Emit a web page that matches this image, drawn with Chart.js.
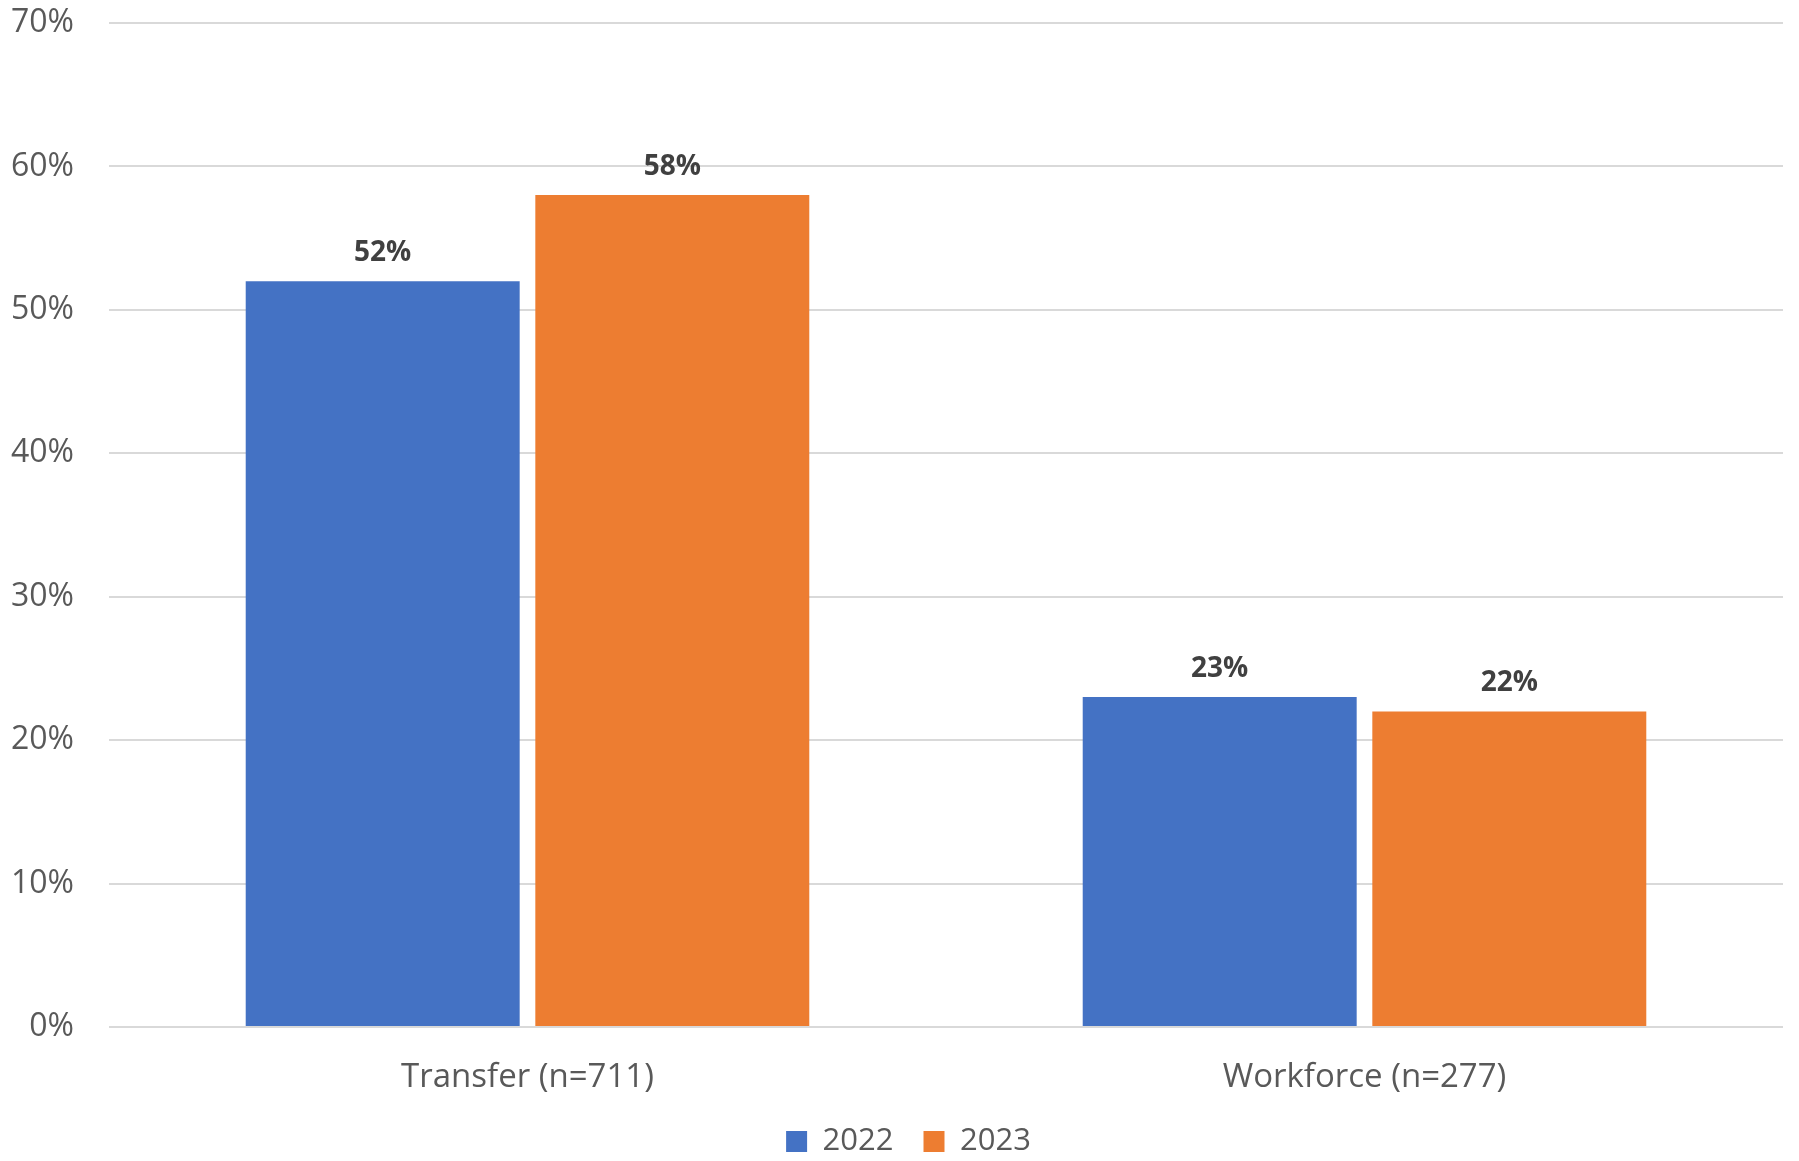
<!DOCTYPE html>
<html>
<head>
<meta charset="utf-8">
<script src="https://cdn.jsdelivr.net/npm/chart.js@4/dist/chart.umd.min.js"></script>
<style>
  html, body { margin: 0; padding: 0; background: #fff; }
  #wrap { width: 1799px; height: 1161px; }
</style>
</head>
<body>
<div id="wrap"><canvas id="barChart"></canvas></div>
<script>
// Data
const categories = ['Transfer (n=711)', 'Workforce (n=277)'];
const years = ['2022', '2023'];
const values2022 = [52, 23];
const values2023 = [58, 22];
const yTicks = [0, 10, 20, 30, 40, 50, 60, 70];

const FONT = "'Open Sans', 'Noto Sans', sans-serif";

// Simple value labels on top of each bar
const barLabels = {
    id: 'barLabels',
    afterLayout(chart) {
        // legend sits a little right of centre in the original
        chart.legend.left += 17;
        chart.legend.right += 17;
    },
    afterDatasetsDraw(chart) {
        const ctx = chart.ctx;
        ctx.save();
        ctx.font = "bold 28px " + FONT;
        ctx.fillStyle = '#404040';
        ctx.textAlign = 'center';
        ctx.textBaseline = 'bottom';
        chart.data.datasets.forEach((ds, i) => {
            chart.getDatasetMeta(i).data.forEach((bar, j) => {
                ctx.fillText(ds.data[j] + '%', bar.x, bar.y - 14);
            });
        });
        ctx.restore();
    }
};

new Chart(document.getElementById('barChart'), {
    type: 'bar',
    data: {
        labels: categories,
        datasets: [
            {
                label: years[0],
                data: values2022,
                backgroundColor: '#4472C4',
                categoryPercentage: 0.692,
                barPercentage: 0.946
            },
            {
                label: years[1],
                data: values2023,
                backgroundColor: '#ED7D31',
                categoryPercentage: 0.692,
                barPercentage: 0.946
            }
        ]
    },
    options: {
        responsive: true,
        maintainAspectRatio: false,
        animation: false,
        layout: {
            padding: { top: 23, right: 16, bottom: -6, left: 0 }
        },
        scales: {
            x: {
                afterFit(scale) { scale.height = 69; },
                grid: { display: false },
                border: { display: false },
                ticks: {
                    color: '#595959',
                    padding: 23,
                    font: { family: FONT, size: 33 }
                }
            },
            y: {
                min: 0,
                max: 70,
                afterFit(scale) {
                    scale.width = 109;
                    scale.paddingTop = 0;
                    scale.paddingBottom = 0;
                },
                afterBuildTicks(scale) {
                    scale.ticks = yTicks.map(v => ({ value: v }));
                },
                grid: { color: '#d9d9d9', lineWidth: 2, drawTicks: false },
                border: { display: false },
                ticks: {
                    color: '#595959',
                    padding: 35,
                    font: { family: FONT, size: 32 },
                    callback: v => v + '%'
                }
            }
        },
        plugins: {
            legend: {
                position: 'bottom',
                labels: {
                    color: '#595959',
                    boxWidth: 21,
                    boxHeight: 21,
                    padding: 30,
                    font: { family: FONT, size: 31, lineHeight: 1.0 }
                }
            },
            tooltip: { enabled: false }
        }
    },
    plugins: [barLabels]
});
</script>
</body>
</html>
